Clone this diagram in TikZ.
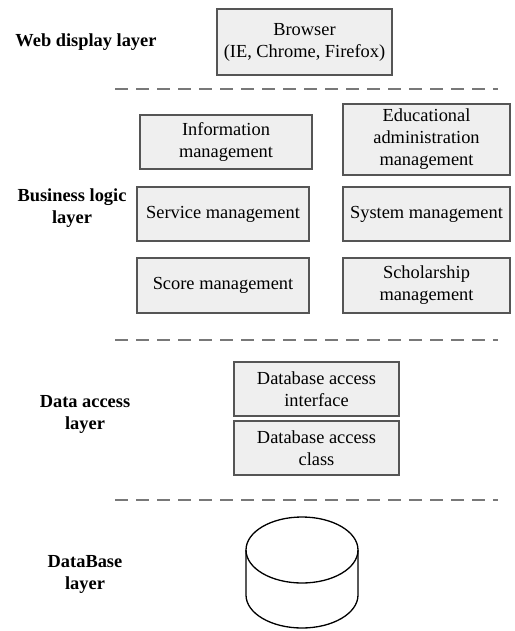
\documentclass[tikz,border=0pt]{standalone}
\usepackage{fontspec}
\setmainfont{Liberation Serif}
\usepackage{tikz}
\usetikzlibrary{shadows}

\definecolor{boxfill}{RGB}{239,239,239}
\definecolor{boxline}{RGB}{85,85,85}
\definecolor{sepline}{RGB}{120,120,120}

\tikzset{
  box/.style={draw=boxline, line width=1.3pt, fill=boxfill, align=center,
    inner sep=0pt, font=\fontsize{18.4}{22}\selectfont,
    drop shadow={shadow xshift=1.2pt, shadow yshift=-1.2pt, opacity=0.35}},
  layer/.style={align=center, font=\fontsize{18.4}{22}\selectfont\bfseries},
  sep/.style={draw=sepline, line width=2.6pt, dash pattern=on 13pt off 8pt}
}

\begin{document}
\begin{tikzpicture}[x=1pt,y=-1pt]
\useasboundingbox (0,0) rectangle (514,631);
% layer names
\node[layer] (web) at (86,42) {Web display layer};
\node[layer] (logic) at (72,208) {Business logic\\layer};
\node[layer] (access) at (85,414) {Data access\\layer};
\node[layer] (dbase) at (85,574) {DataBase\\layer};
% web display layer
\node[box, minimum width=175pt, minimum height=66pt] (browser) at (304.5,42) {Browser\\(IE, Chrome, Firefox)};
\draw[sep] (115,89) -- (498,89);
% business logic layer
\node[box, minimum width=172pt, minimum height=54pt] (info) at (226,142) {Information\\management};
\node[box, minimum width=167pt, minimum height=71pt] (edu) at (426.5,139.5) {Educational\\administration\\management};
\node[box, minimum width=172pt, minimum height=54pt] (service) at (223,214) {Service management};
\node[box, minimum width=167pt, minimum height=54pt] (system) at (426.5,214) {System management};
\node[box, minimum width=172pt, minimum height=55pt] (score) at (223,285.5) {Score management};
\node[box, minimum width=167pt, minimum height=55pt] (scholar) at (426.5,285.5) {Scholarship\\management};
\draw[sep] (115,340) -- (498,340);
% data access layer
\node[box, minimum width=165pt, minimum height=54pt] (dbif) at (316.5,389) {Database access\\interface};
\node[box, minimum width=165pt, minimum height=54pt] (dbclass) at (316.5,448) {Database access\\class};
\draw[sep] (115,500) -- (498,500);
% database
\draw[line width=1.3pt, fill=white] (246,550) -- (246,595) arc[start angle=180, end angle=360, x radius=56pt, y radius=33pt] -- (358,550);
\draw[line width=1.3pt] (302,550) ellipse[x radius=56pt, y radius=33pt];
\end{tikzpicture}
\end{document}
